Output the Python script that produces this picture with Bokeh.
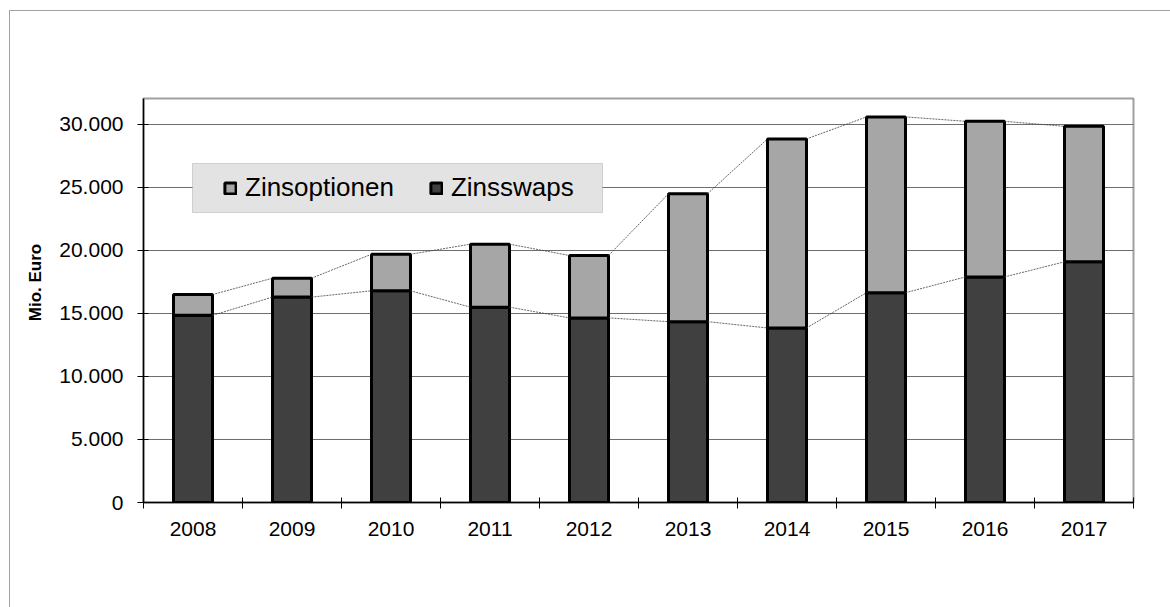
from bokeh.plotting import figure
from bokeh.models import (FixedTicker, Legend, BoxAnnotation, ColumnDataSource, Range1d, Label)
from bokeh.embed import file_html
from bokeh.resources import INLINE
import numpy as np

# ---- data (Mio. Euro) ----
years = ["2008", "2009", "2010", "2011", "2012", "2013", "2014", "2015", "2016", "2017"]
zinsswaps = [14850, 16300, 16800, 15500, 14650, 14350, 13850, 16650, 17900, 19100]
zinsoptionen = [1650, 1500, 2900, 5000, 4950, 10150, 15000, 13950, 12350, 10750]
y_ticks = [0, 5000, 10000, 15000, 20000, 25000, 30000]
y_tick_labels = ["0", "5.000", "10.000", "15.000", "20.000", "25.000", "30.000"]
series_names = ["Zinsswaps", "Zinsoptionen"]
colors = ["#404040", "#a6a6a6"]

FONT = "Liberation Sans"
BAR_W = 0.394

idx = np.arange(len(years), dtype=float)
source = ColumnDataSource(dict(x=idx, Zinsswaps=zinsswaps, Zinsoptionen=zinsoptionen))

p = figure(width=1170, height=607, output_backend="svg", toolbar_location=None,
           x_range=Range1d(-0.5, len(years) - 0.5), y_range=Range1d(0, 32060),
           min_border_left=143, min_border_right=37, min_border_top=98, min_border_bottom=105)

rs = p.vbar_stack(series_names, x="x", width=BAR_W, source=source,
                  fill_color=colors, line_color="black", line_width=3)

# series lines connecting the stack tops
sw = np.array(zinsswaps, dtype=float)
tot = sw + np.array(zinsoptionen, dtype=float)
for tops in (sw, tot):
    p.segment(x0=idx[:-1] + BAR_W / 2, y0=tops[:-1], x1=idx[1:] - BAR_W / 2, y1=tops[1:],
              line_color="#404040", line_width=0.8, line_dash="2 1")

# axes
p.xaxis.ticker = FixedTicker(ticks=list(idx), minor_ticks=list(np.arange(len(years) + 1) - 0.5))
p.xaxis.major_label_overrides = {float(i): y for i, y in zip(idx, years)}
p.xaxis.major_tick_in = 0
p.xaxis.major_tick_out = 0
p.xaxis.minor_tick_line_color = "black"
p.xaxis.minor_tick_in = 5
p.xaxis.minor_tick_out = 6
p.xaxis.major_label_standoff = 13

p.yaxis.ticker = FixedTicker(ticks=y_ticks, minor_ticks=[])
p.yaxis.major_label_overrides = {t: l for t, l in zip(y_ticks, y_tick_labels)}
p.yaxis.major_tick_in = 5
p.yaxis.major_tick_out = 6
p.yaxis.major_label_standoff = 14

for ax in (p.xaxis, p.yaxis):
    ax.axis_line_color = "black"
    ax.axis_line_width = 1.5
    ax.major_label_text_font = FONT
    ax.major_label_text_font_size = "21px"
    ax.major_label_text_color = "black"
p.yaxis.major_tick_line_color = "black"
p.xaxis.major_tick_line_color = None

# y axis title (placed like the original, slightly above the frame centre)
p.add_layout(Label(text="Mio. Euro", x=35, y=282, x_units="canvas", y_units="canvas",
                   angle=np.pi / 2, text_align="center", text_baseline="middle",
                   text_font=FONT, text_font_style="bold", text_font_size="17px", text_color="black"),
             "left")

p.xgrid.grid_line_color = None
p.ygrid.ticker = FixedTicker(ticks=y_ticks)
p.ygrid.grid_line_color = "#6e6e6e"
p.ygrid.grid_line_width = 1

p.outline_line_color = "#a0a0a0"
p.outline_line_width = 2
p.background_fill_color = "white"
p.border_fill_color = None

# outer chart frame (only its left and top edges lie inside the window) drawn as page background
p.styles = {
    "background": "linear-gradient(#a0a0a0, #a0a0a0) 9px 10px / 1px 100% no-repeat, "
                  "linear-gradient(#a0a0a0, #a0a0a0) 9px 10px / 100% 1px no-repeat, #ffffff"
}

# legend box
lbox = BoxAnnotation(left=192, right=602, top=163, bottom=212,
                     left_units="canvas", right_units="canvas", top_units="canvas", bottom_units="canvas",
                     fill_color="#e3e3e3", fill_alpha=1, line_color="#808080", line_width=1)
p.add_layout(lbox)

legend = Legend(items=[(series_names[1], [rs[1]]), (series_names[0], [rs[0]])],
                orientation="horizontal", location=(80, 299),
                glyph_width=14, glyph_height=14, label_standoff=8, spacing=35,
                padding=0, margin=0, border_line_color=None, background_fill_alpha=0,
                label_text_font=FONT, label_text_font_size="26px", label_text_color="black")
p.add_layout(legend)

open("out.html", "w").write(file_html(p, INLINE))
